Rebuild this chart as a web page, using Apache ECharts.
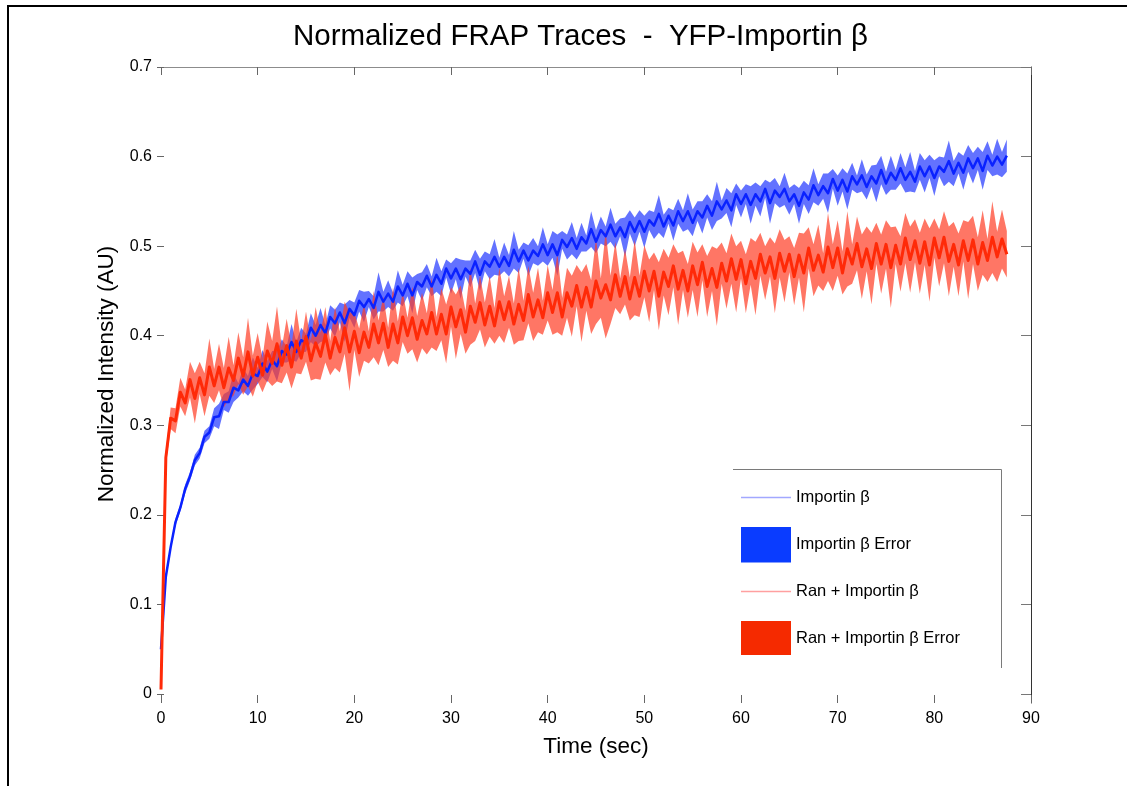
<!DOCTYPE html>
<html>
<head>
<meta charset="utf-8">
<script src="https://cdn.jsdelivr.net/npm/echarts@6/dist/echarts.min.js"></script>
<style>
  html, body { margin: 0; padding: 0; background: #ffffff; }
  #chart { width: 1127px; height: 786px; }
</style>
</head>
<body>
<div id="chart"></div>
<script>
// ---------------- data ----------------
const chartTitle = 'Normalized FRAP Traces  -  YFP-Importin \u03b2';
const xAxisName = 'Time (sec)';
const yAxisName = 'Normalized Intensity (AU)';
const seriesNames = ['Importin \u03b2', 'Importin \u03b2 Error', 'Ran + Importin \u03b2', 'Ran + Importin \u03b2 Error'];
const frameIntervalSec = 0.5;              // time between samples
const xTickValues = [0, 10, 20, 30, 40, 50, 60, 70, 80, 90];
const yTickValues = [0, 0.1, 0.2, 0.3, 0.4, 0.5, 0.6, 0.7];

// Importin β mean trace
const importinMean = [
  0.050,0.131,0.164,0.192,0.208,0.229,0.243,0.261,0.269,0.287,
  0.292,0.309,0.310,0.326,0.326,0.342,0.339,0.351,0.344,0.358,
  0.355,0.369,0.360,0.373,0.366,0.383,0.379,0.393,0.382,0.395,
  0.392,0.409,0.400,0.412,0.403,0.421,0.414,0.426,0.414,0.430,
  0.423,0.439,0.432,0.441,0.431,0.449,0.438,0.447,0.438,0.455,
  0.445,0.458,0.445,0.460,0.455,0.467,0.455,0.468,0.458,0.475,
  0.464,0.475,0.463,0.475,0.469,0.483,0.468,0.483,0.477,0.488,
  0.477,0.488,0.478,0.496,0.483,0.495,0.484,0.495,0.489,0.502,
  0.490,0.502,0.490,0.507,0.499,0.509,0.497,0.510,0.503,0.519,
  0.505,0.518,0.511,0.524,0.511,0.521,0.510,0.527,0.516,0.528,
  0.516,0.529,0.523,0.536,0.522,0.534,0.523,0.539,0.528,0.539,
  0.526,0.539,0.532,0.545,0.534,0.550,0.541,0.551,0.540,0.558,
  0.547,0.558,0.546,0.558,0.550,0.564,0.548,0.562,0.555,0.564,
  0.550,0.558,0.545,0.560,0.552,0.568,0.557,0.567,0.559,0.575,
  0.562,0.574,0.561,0.578,0.569,0.579,0.566,0.578,0.570,0.585,
  0.570,0.582,0.574,0.587,0.574,0.583,0.572,0.589,0.578,0.589,
  0.576,0.589,0.583,0.595,0.581,0.593,0.582,0.598,0.587,0.598,
  0.584,0.601,0.590,0.600,0.591,0.601
];
// Importin β error (half width)
const importinErr = [
  0.000,0.003,0.003,0.004,0.004,0.005,0.005,0.006,0.006,0.007,
  0.007,0.010,0.014,0.009,0.012,0.016,0.008,0.013,0.011,0.018,
  0.009,0.015,0.012,0.010,0.017,0.013,0.009,0.020,0.011,0.014,
  0.010,0.016,0.012,0.019,0.009,0.013,0.015,0.011,0.021,0.010,
  0.014,0.012,0.017,0.009,0.013,0.022,0.011,0.015,0.010,0.018,
  0.012,0.014,0.020,0.009,0.016,0.013,0.011,0.019,0.014,0.010,
  0.017,0.012,0.022,0.009,0.015,0.013,0.018,0.011,0.014,0.020,
  0.010,0.016,0.012,0.021,0.013,0.009,0.017,0.014,0.011,0.019,
  0.012,0.015,0.023,0.010,0.014,0.018,0.012,0.016,0.009,0.020,
  0.013,0.015,0.011,0.019,0.014,0.010,0.022,0.013,0.016,0.012,
  0.018,0.011,0.015,0.021,0.013,0.009,0.017,0.014,0.012,0.020,
  0.015,0.011,0.018,0.013,0.016,0.022,0.010,0.014,0.019,0.012,
  0.015,0.011,0.021,0.013,0.017,0.010,0.023,0.014,0.012,0.018,
  0.015,0.011,0.020,0.013,0.016,0.019,0.012,0.014,0.022,0.011,
  0.017,0.013,0.020,0.015,0.010,0.018,0.014,0.012,0.021,0.016,
  0.013,0.019,0.011,0.017,0.014,0.022,0.012,0.015,0.018,0.013,
  0.020,0.011,0.016,0.023,0.014,0.012,0.019,0.015,0.017,0.013,
  0.021,0.016,0.012,0.020,0.014,0.018
];
// Ran + Importin β mean trace
const ranMean = [
  0.005,0.264,0.308,0.305,0.337,0.325,0.351,0.330,0.353,0.334,
  0.365,0.344,0.365,0.342,0.364,0.350,0.375,0.355,0.382,0.355,
  0.376,0.356,0.383,0.369,0.391,0.367,0.389,0.365,0.394,0.375,
  0.399,0.372,0.392,0.377,0.401,0.375,0.398,0.382,0.409,0.382,
  0.405,0.381,0.404,0.387,0.413,0.392,0.414,0.387,0.413,0.392,
  0.421,0.400,0.420,0.396,0.417,0.402,0.426,0.402,0.424,0.402,
  0.432,0.410,0.429,0.404,0.433,0.415,0.437,0.412,0.433,0.411,
  0.438,0.418,0.438,0.413,0.435,0.417,0.446,0.421,0.440,0.420,
  0.448,0.426,0.448,0.421,0.448,0.433,0.456,0.432,0.454,0.432,
  0.461,0.442,0.457,0.440,0.468,0.444,0.466,0.441,0.465,0.444,
  0.472,0.450,0.472,0.444,0.471,0.455,0.478,0.452,0.473,0.450,
  0.478,0.457,0.482,0.455,0.475,0.454,0.481,0.461,0.486,0.463,
  0.485,0.458,0.483,0.464,0.491,0.470,0.488,0.464,0.492,0.472,
  0.491,0.466,0.490,0.470,0.498,0.473,0.490,0.471,0.499,0.476,
  0.498,0.470,0.497,0.480,0.503,0.477,0.497,0.475,0.503,0.480,
  0.502,0.476,0.501,0.480,0.509,0.485,0.506,0.481,0.505,0.479,
  0.509,0.487,0.510,0.483,0.502,0.479,0.506,0.484,0.507,0.480,
  0.504,0.484,0.510,0.488,0.508,0.491
];
// Ran + Importin β error (half width)
const ranErr = [
  0.000,0.008,0.012,0.014,0.016,0.015,
  0.020,0.028,0.018,0.024,0.032,0.019,0.026,0.022,0.035,0.017,
  0.029,0.021,0.038,0.023,0.027,0.019,0.033,0.025,0.042,0.020,
  0.030,0.024,0.036,0.018,0.028,0.022,0.040,0.026,0.031,0.019,
  0.034,0.023,0.029,0.044,0.021,0.027,0.032,0.018,0.037,0.025,
  0.030,0.022,0.041,0.024,0.028,0.020,0.035,0.026,0.031,0.023,
  0.039,0.019,0.029,0.033,0.022,0.036,0.027,0.024,0.043,0.021,
  0.030,0.025,0.034,0.020,0.038,0.026,0.029,0.023,0.041,0.022,
  0.032,0.027,0.036,0.019,0.031,0.025,0.044,0.021,0.028,0.034,
  0.023,0.039,0.026,0.030,0.048,0.022,0.060,0.027,0.037,0.020,
  0.031,0.024,0.042,0.023,0.029,0.035,0.021,0.038,0.026,0.032,
  0.024,0.040,0.022,0.030,0.027,0.036,0.020,0.034,0.025,0.043,
  0.023,0.031,0.028,0.037,0.021,0.033,0.026,0.041,0.024,0.030,
  0.022,0.039,0.027,0.035,0.020,0.032,0.025,0.044,0.023,0.029,
  0.034,0.021,0.038,0.026,0.031,0.024,0.042,0.022,0.030,0.036,
  0.025,0.040,0.023,0.033,0.027,0.045,0.021,0.031,0.028,0.037,
  0.024,0.034,0.026,0.041,0.022,0.032,0.029,0.039,0.025,0.035,
  0.023,0.043,0.027,0.030,0.036,0.024,0.040,0.028,0.033,0.026
];

// ---------------- styles ----------------
const FONT = "'Liberation Sans', Arial, Helvetica, sans-serif";
const BLUE_LINE = '#0a22ff';
const BLUE_BAND = 'rgba(45, 65, 255, 0.74)';
const RED_LINE = '#ff2a08';
const RED_BAND = 'rgba(255, 60, 36, 0.7)';

const timeOf = i => i * frameIntervalSec;
const toPoints = arr => arr.map((v, i) => [timeOf(i), v]);
// band rows: [time, lower, upper]
const toBand = (mean, err) => mean.map((m, i) => [timeOf(i), m - err[i], m + err[i]]);

function bandSeries(name, mean, err, color, z) {
  const rows = toBand(mean, err);
  return {
    name: name, type: 'custom', data: rows, silent: true, z: z, animation: false,
    encode: { x: 0, y: [1, 2] },
    renderItem: function (params, api) {
      if (params.dataIndex !== 0) return null;
      const upper = rows.map(r => api.coord([r[0], r[2]]));
      const lower = rows.map(r => api.coord([r[0], r[1]])).reverse();
      return {
        type: 'polygon',
        shape: { points: upper.concat(lower) },
        style: { fill: color, stroke: null }
      };
    }
  };
}

function legendBox(name, top, h, color) {
  return {
    data: [{ name: name, icon: 'rect' }],
    left: 741, top: top, padding: 0, orient: 'vertical',
    itemWidth: 50, itemHeight: h,
    itemStyle: { color: color, borderWidth: 0 },
    textStyle: { fontSize: 16.5, color: '#000', fontFamily: FONT },
    selectedMode: false
  };
}

const chart = echarts.init(document.getElementById('chart'), null, { renderer: 'canvas' });
const yLabelFmt = v => (v === 0 ? '0' : String(v));

chart.setOption({
  animation: false,
  backgroundColor: '#ffffff',
  title: {
    text: chartTitle, left: 293, top: 22, padding: 0,
    textStyle: { fontSize: 29.5, fontWeight: 'normal', color: '#000', fontFamily: FONT }
  },
  grid: { left: 161, right: 96, top: 67, bottom: 83 },
  xAxis: [
    {
      type: 'value', position: 'bottom', min: xTickValues[0], max: xTickValues[xTickValues.length - 1], interval: 10,
      axisLine: { show: false, onZero: false },
      axisTick: { show: true, inside: true, length: 8, lineStyle: { color: '#666' } },
      axisLabel: { fontSize: 16, color: '#000', margin: 8, fontFamily: FONT },
      splitLine: { show: false },
      name: xAxisName, nameLocation: 'middle', nameGap: 32,
      nameTextStyle: { fontSize: 22.5, color: '#000', fontFamily: FONT }
    },
    {
      type: 'value', position: 'top', min: xTickValues[0], max: xTickValues[xTickValues.length - 1], interval: 10,
      axisLine: { show: true, onZero: false, lineStyle: { color: '#8c8c8c', width: 1 } },
      axisTick: { show: true, inside: true, length: 8, lineStyle: { color: '#666' } },
      axisLabel: { show: false }, splitLine: { show: false }
    }
  ],
  yAxis: [
    {
      type: 'value', position: 'left', offset: 4, min: -0.01, max: 0.7,
      axisLine: { show: false, onZero: false },
      axisTick: { show: true, inside: true, length: 7, customValues: yTickValues, lineStyle: { color: '#666' } },
      axisLabel: { customValues: yTickValues, formatter: yLabelFmt, fontSize: 16, color: '#000', margin: 5, fontFamily: FONT },
      splitLine: { show: false },
      name: yAxisName, nameLocation: 'middle', nameGap: 39,
      nameTextStyle: { fontSize: 22.5, color: '#000', fontFamily: FONT, padding: [0, 0, 0, 22] }
    },
    {
      type: 'value', position: 'right', min: -0.01, max: 0.7,
      axisLine: { show: true, onZero: false, lineStyle: { color: '#333', width: 1 } },
      axisTick: { show: true, inside: true, length: 10, customValues: yTickValues, lineStyle: { color: '#777' } },
      axisLabel: { show: false }, splitLine: { show: false }
    }
  ],
  legend: [
    legendBox(seriesNames[0], 489, 1.5, '#a2a8ff'),
    legendBox(seriesNames[1], 527, 35.5, '#0a3cff'),
    legendBox(seriesNames[2], 583, 1.5, '#ffa0a0'),
    legendBox(seriesNames[3], 621, 34, '#f52a00')
  ],
  graphic: [
    { type: 'rect', silent: true, shape: { x: 8, y: 6, width: 1200, height: 900 },
      style: { fill: null, stroke: '#000', lineWidth: 2 } },
    { type: 'polyline', silent: true, shape: { points: [[733, 469.5], [1001.5, 469.5], [1001.5, 668]] },
      style: { fill: null, stroke: '#7a7a7a', lineWidth: 1 } }
  ],
  series: [
    bandSeries(seriesNames[1], importinMean, importinErr, BLUE_BAND, 2),
    bandSeries(seriesNames[3], ranMean, ranErr, RED_BAND, 2),
    {
      name: seriesNames[0], type: 'line', data: toPoints(importinMean), symbol: 'none',
      lineStyle: { color: BLUE_LINE, width: 2.5, join: 'round', cap: 'butt' }, itemStyle: { color: BLUE_LINE }, z: 3
    },
    {
      name: seriesNames[2], type: 'line', data: toPoints(ranMean), symbol: 'none',
      lineStyle: { color: RED_LINE, width: 3, join: 'round', cap: 'butt' }, itemStyle: { color: RED_LINE }, z: 3
    }
  ]
});
</script>
</body>
</html>
